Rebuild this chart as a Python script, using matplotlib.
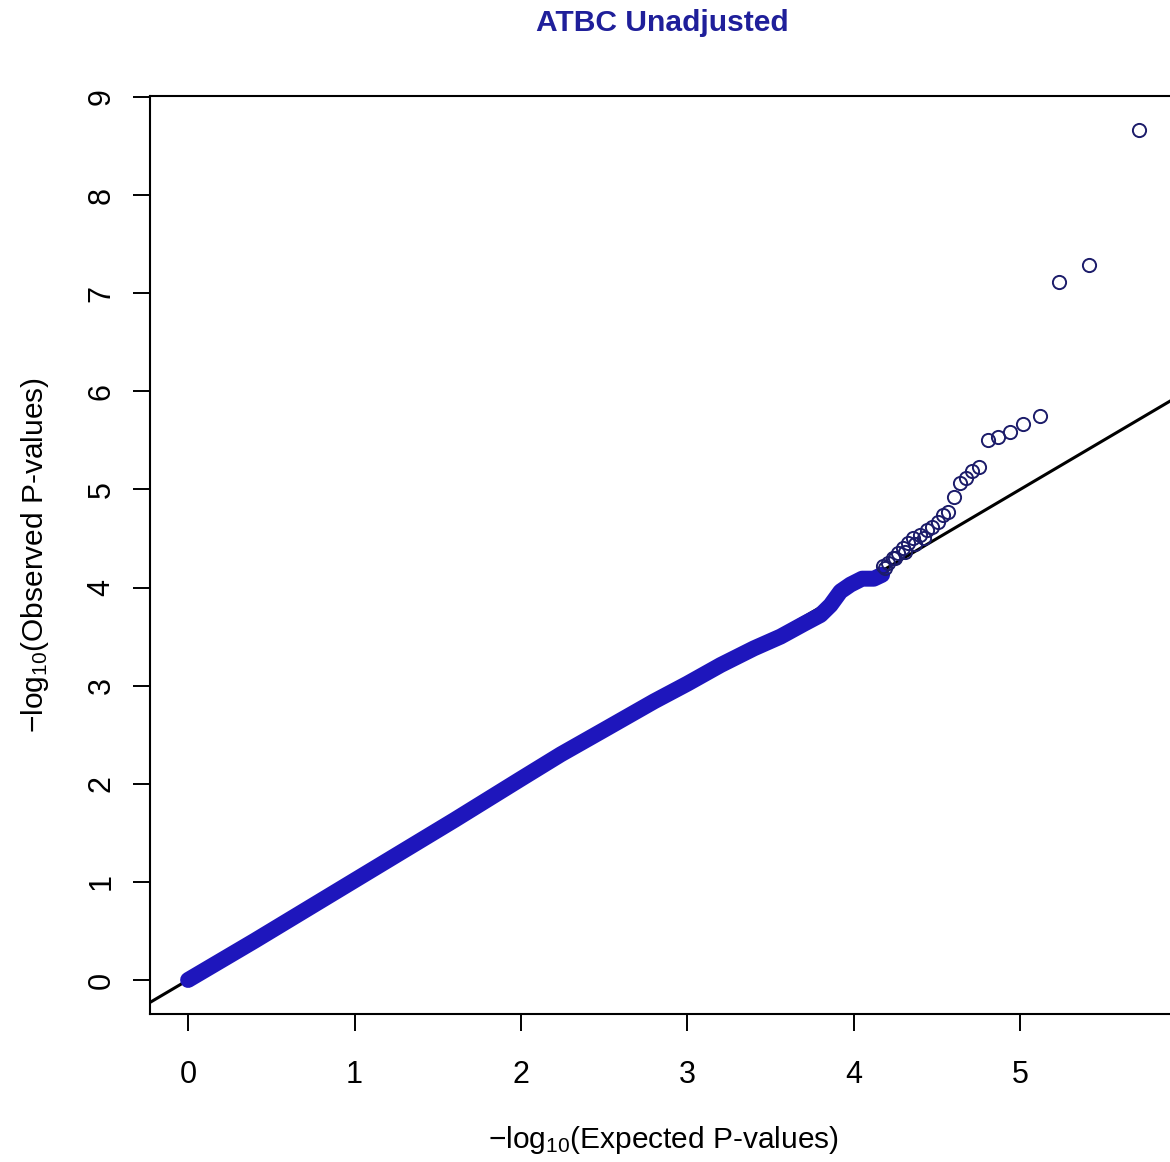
import numpy as np
import matplotlib
matplotlib.use('Agg')
import matplotlib.pyplot as plt

plt.rcParams['font.family'] = ['Liberation Sans', 'DejaVu Sans']
plt.rcParams['mathtext.fontset'] = 'custom'
plt.rcParams['mathtext.rm'] = 'Liberation Sans'
plt.rcParams['mathtext.it'] = 'Liberation Sans:italic'
plt.rcParams['mathtext.bf'] = 'Liberation Sans:bold'

# dense part of the QQ curve (thousands of overlapping points)
band_exp = [0.00, 0.40, 0.80, 1.20, 1.60, 2.00, 2.24, 2.50, 2.80, 3.00, 3.20,
            3.40, 3.56, 3.70, 3.80, 3.86, 3.92, 3.98, 4.05, 4.12, 4.17]
band_obs = [0.00, 0.40, 0.81, 1.22, 1.63, 2.05, 2.30, 2.55, 2.84, 3.02, 3.21,
            3.38, 3.50, 3.63, 3.72, 3.82, 3.96, 4.03, 4.09, 4.09, 4.13]

# sparse upper tail, one circle per SNP
tail_exp = [5.712, 5.411, 5.231, 5.117, 5.015, 4.937, 4.865, 4.805, 4.751,
            4.709, 4.673, 4.637, 4.601, 4.565, 4.535, 4.505, 4.468, 4.438,
            4.396, 4.354, 4.324, 4.294, 4.264, 4.234, 4.204, 4.174,
            4.42, 4.37, 4.31, 4.25, 4.19]
tail_obs = [8.663, 7.286, 7.112, 5.745, 5.663, 5.582, 5.531, 5.500, 5.224,
            5.184, 5.112, 5.061, 4.918, 4.765, 4.735, 4.663, 4.612, 4.582,
            4.531, 4.500, 4.449, 4.398, 4.347, 4.296, 4.255, 4.224,
            4.50, 4.44, 4.36, 4.30, 4.20]

x_ticks = [0, 1, 2, 3, 4, 5]
y_ticks = [0, 1, 2, 3, 4, 5, 6, 7, 8, 9]

W, H = 1170, 1162
fig = plt.figure(figsize=(W / 100, H / 100), dpi=100)
ax = fig.add_axes([150 / W, (H - 1014) / H, (1180 - 150) / W, (1014 - 96) / H])

ax.axline((0, 0), slope=1, color='black', lw=2.2, zorder=1)
ax.plot(band_exp, band_obs, color='#1e16bc', lw=11.5, solid_capstyle='round',
        solid_joinstyle='round', zorder=2)
ax.plot(tail_exp, tail_obs, 'o', mfc='none', mec='#1c1c6a', ms=9.5, mew=1.4,
        zorder=3)

ax.set_xlim(-0.229, 5.96)
ax.set_ylim(-0.347, 9.01)
ax.set_xticks(x_ticks)
ax.set_yticks(y_ticks)
ax.tick_params(direction='out', length=12, width=1.4, labelsize=22,
               colors='black')
ax.tick_params(axis='x', pad=21)
ax.tick_params(axis='y', pad=12)
for lab in ax.get_yticklabels():
    lab.set_rotation(90)
    lab.set_va('center')
for sp in ax.spines.values():
    sp.set_linewidth(1.5)

fig.text(662 / W, 1 - 23 / H, 'ATBC Unadjusted', ha='center', va='center',
         fontsize=21.6, fontweight='bold', color='#1f1f9a')
fig.text(663 / W, 1 - 1140 / H, r'$-\mathrm{log}_{10}$(Expected P-values)',
         ha='center', va='center', fontsize=21.5)
fig.text(35 / W, 1 - 555 / H, r'$-\mathrm{log}_{10}$(Observed P-values)',
         ha='center', va='center', rotation=90, fontsize=21.5)

fig.savefig('out.png', dpi=100)
